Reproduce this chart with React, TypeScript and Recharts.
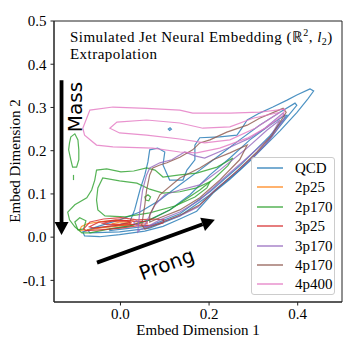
import React from "react";
import { LineChart, Line, XAxis, YAxis, Legend, ReferenceArea, ReferenceLine } from "recharts";

type Pt = [number, number];

const SERIF = '"Liberation Serif", "Times New Roman", serif';
const SANS = '"DejaVu Sans", sans-serif';

const classes = ["QCD", "2p25", "2p170", "3p25", "3p170", "4p170", "4p400"];
const colors = ["#1f77b4", "#ff7f0e", "#2ca02c", "#d62728", "#9467bd", "#8c564b", "#e377c2"];
const xTicks = [0, 0.2, 0.4];
const yTicks = [-0.1, 0, 0.1, 0.2, 0.3, 0.4, 0.5];

// density contours, [embed dim 1, embed dim 2]
const qcdOuter: Pt[] = [
  [0.428, 0.343], [0.398, 0.329], [0.376, 0.317], [0.344, 0.301], [0.314, 0.287], [0.286, 0.271],
  [0.274, 0.252], [0.263, 0.236], [0.224, 0.232], [0.179, 0.230], [0.168, 0.213], [0.168, 0.179],
  [0.150, 0.155], [0.141, 0.132], [0.111, 0.132], [0.096, 0.167], [0.100, 0.197], [0.084, 0.206],
  [0.066, 0.202], [0.062, 0.174], [0.055, 0.144], [0.044, 0.109], [0.032, 0.063], [0.021, 0.035],
  [-0.013, 0.026], [-0.058, 0.021], [-0.085, 0.012], [-0.081, 0.003], [-0.047, 0.001], [-0.002, 0.006],
  [0.055, 0.014], [0.096, 0.025], [0.134, 0.042], [0.172, 0.060], [0.209, 0.102], [0.247, 0.134],
  [0.292, 0.176], [0.322, 0.207], [0.360, 0.246], [0.398, 0.288], [0.423, 0.320], [0.436, 0.338],
];
const qcdMid: Pt[] = [
  [0.394, 0.310], [0.360, 0.289], [0.314, 0.259], [0.269, 0.225], [0.224, 0.190], [0.179, 0.155],
  [0.134, 0.121], [0.089, 0.086], [0.044, 0.058], [-0.002, 0.040], [-0.047, 0.026], [-0.074, 0.017],
  [-0.069, 0.010], [-0.002, 0.012], [0.066, 0.021], [0.134, 0.049], [0.202, 0.098], [0.269, 0.155],
  [0.326, 0.213], [0.371, 0.271], [0.398, 0.305],
];
const qcdInner: Pt[] = [
  [0.371, 0.282], [0.337, 0.259], [0.292, 0.225], [0.247, 0.183], [0.202, 0.144], [0.157, 0.098],
  [0.111, 0.063], [0.066, 0.040], [0.021, 0.026], [-0.024, 0.019], [-0.024, 0.015], [0.066, 0.026],
  [0.134, 0.054], [0.202, 0.105], [0.269, 0.165], [0.337, 0.234], [0.376, 0.282],
];
const qcdSpot: Pt[] = [[0.108, 0.250], [0.112, 0.253], [0.115, 0.250], [0.111, 0.247]];

const p2p25Outer: Pt[] = [
  [-0.092, 0.016], [-0.088, 0.025], [-0.075, 0.031], [-0.045, 0.036], [-0.010, 0.039], [0.025, 0.038],
  [0.045, 0.033], [0.030, 0.029], [0.000, 0.026], [-0.040, 0.022], [-0.075, 0.017],
];
const p2p25Inner: Pt[] = [[-0.020, 0.031], [0.000, 0.035], [0.020, 0.034], [0.022, 0.031], [0.000, 0.029]];

const p2p170Outer: Pt[] = [
  [-0.119, 0.058], [-0.103, 0.075], [-0.076, 0.091], [-0.065, 0.109], [-0.058, 0.132], [-0.054, 0.155],
  [-0.031, 0.158], [0.001, 0.151], [0.030, 0.153], [0.059, 0.160], [0.078, 0.155], [0.096, 0.139],
  [0.134, 0.144], [0.172, 0.148], [0.218, 0.162], [0.254, 0.183], [0.242, 0.165], [0.213, 0.137],
  [0.179, 0.109], [0.145, 0.086], [0.111, 0.063], [0.066, 0.040], [0.021, 0.026], [-0.024, 0.019],
  [-0.069, 0.010], [-0.087, 0.010], [-0.103, 0.024], [-0.115, 0.040],
];
const p2p170Mid: Pt[] = [
  [-0.054, 0.086], [-0.051, 0.114], [-0.040, 0.137], [-0.002, 0.130], [0.037, 0.125], [0.066, 0.111],
  [0.096, 0.102], [0.134, 0.105], [0.172, 0.114], [0.202, 0.128], [0.195, 0.114], [0.168, 0.093],
  [0.123, 0.072], [0.066, 0.056], [0.010, 0.047], [-0.035, 0.049], [-0.051, 0.063],
];
const p2p170Loop: Pt[] = [[0.055, 0.093], [0.062, 0.098], [0.068, 0.093], [0.064, 0.084], [0.057, 0.086]];
const p2p170Low: Pt[] = [[-0.103, 0.035], [-0.092, 0.045], [-0.078, 0.038], [-0.083, 0.019], [-0.096, 0.017]];
const p2p170Thin: Pt[] = [
  [-0.112, 0.232], [-0.103, 0.239], [-0.096, 0.225], [-0.094, 0.202], [-0.094, 0.179], [-0.099, 0.162],
  [-0.108, 0.162], [-0.112, 0.179], [-0.117, 0.202], [-0.115, 0.218],
];
const p2p170Dash: Pt[] = [[-0.106, 0.144], [-0.106, 0.132]];

const p3p25Outer: Pt[] = [
  [-0.083, 0.019], [-0.069, 0.035], [-0.038, 0.042], [0.001, 0.045], [0.037, 0.040], [0.075, 0.042],
  [0.098, 0.040], [0.096, 0.033], [0.075, 0.028], [0.037, 0.026], [0.001, 0.021], [-0.047, 0.017],
  [-0.078, 0.015],
];
const p3p25Mid: Pt[] = [
  [-0.070, 0.024], [-0.050, 0.034], [-0.010, 0.040], [0.030, 0.037], [0.060, 0.036], [0.060, 0.031],
  [0.020, 0.029], [-0.020, 0.026], [-0.060, 0.021],
];
const p3p25Inner: Pt[] = [[-0.040, 0.032], [-0.020, 0.037], [0.015, 0.037], [0.025, 0.033], [0.000, 0.030], [-0.030, 0.029]];

const p3p170Outer: Pt[] = [
  [0.039, 0.012], [0.044, 0.063], [0.050, 0.109], [0.059, 0.144], [0.066, 0.160], [0.089, 0.172],
  [0.116, 0.179], [0.145, 0.197], [0.168, 0.188], [0.190, 0.183], [0.247, 0.208], [0.292, 0.229],
  [0.326, 0.252], [0.367, 0.287], [0.371, 0.276], [0.337, 0.225], [0.304, 0.190], [0.258, 0.148],
  [0.213, 0.109], [0.175, 0.070], [0.134, 0.049], [0.089, 0.033], [0.044, 0.017],
];
const p3p170Mid: Pt[] = [
  [0.055, 0.028], [0.078, 0.075], [0.100, 0.098], [0.134, 0.109], [0.179, 0.121], [0.224, 0.155],
  [0.281, 0.202], [0.331, 0.248], [0.360, 0.271], [0.337, 0.230], [0.281, 0.179], [0.224, 0.128],
  [0.179, 0.086], [0.134, 0.058], [0.089, 0.040], [0.055, 0.021],
];
const p3p170Spot: Pt[] = [[0.030, 0.033], [0.036, 0.038], [0.042, 0.033], [0.036, 0.028]];

const p4p170Outer: Pt[] = [
  [0.048, 0.028], [0.055, 0.075], [0.059, 0.109], [0.066, 0.144], [0.073, 0.160], [0.089, 0.167],
  [0.105, 0.172], [0.134, 0.185], [0.163, 0.202], [0.179, 0.218], [0.202, 0.225], [0.240, 0.243],
  [0.286, 0.259], [0.314, 0.275], [0.367, 0.298], [0.374, 0.289], [0.342, 0.236], [0.308, 0.197],
  [0.265, 0.155], [0.220, 0.114], [0.179, 0.075], [0.141, 0.054], [0.096, 0.035], [0.055, 0.019],
];
const p4p170Mid: Pt[] = [
  [0.066, 0.052], [0.089, 0.098], [0.134, 0.137], [0.179, 0.160], [0.209, 0.179], [0.247, 0.195],
  [0.286, 0.213], [0.269, 0.179], [0.224, 0.132], [0.179, 0.091], [0.134, 0.063], [0.089, 0.045],
  [0.066, 0.035],
];

const p4p400Outer: Pt[] = [
  [-0.085, 0.252], [-0.069, 0.294], [-0.017, 0.301], [0.059, 0.298], [0.134, 0.294], [0.163, 0.287],
  [0.247, 0.287], [0.314, 0.289], [0.371, 0.296], [0.367, 0.282], [0.331, 0.255], [0.286, 0.229],
  [0.224, 0.206], [0.172, 0.195], [0.134, 0.197], [0.073, 0.206], [-0.017, 0.209], [-0.054, 0.213],
  [-0.081, 0.236],
];
const p4p400Inner: Pt[] = [
  [-0.024, 0.252], [-0.008, 0.266], [0.059, 0.271], [0.134, 0.264], [0.186, 0.252], [0.247, 0.255],
  [0.299, 0.275], [0.360, 0.289], [0.304, 0.252], [0.247, 0.225], [0.190, 0.218], [0.134, 0.227],
  [0.059, 0.236], [-0.002, 0.241],
];

// arrow annotations, drawn in data space
const massArrow = [{ x: -0.133, y: 0.363 }, { x: -0.133, y: 0.005 }];
const prongArrow = [{ x: -0.053, y: -0.059 }, { x: 0.213, y: 0.04 }];

const contours: { cls: number; ring: Pt[]; open?: boolean }[] = [
  { cls: 0, ring: qcdOuter }, { cls: 0, ring: qcdMid }, { cls: 0, ring: qcdInner }, { cls: 0, ring: qcdSpot },
  { cls: 1, ring: p2p25Outer }, { cls: 1, ring: p2p25Inner },
  { cls: 2, ring: p2p170Outer }, { cls: 2, ring: p2p170Mid }, { cls: 2, ring: p2p170Loop },
  { cls: 2, ring: p2p170Low }, { cls: 2, ring: p2p170Thin }, { cls: 2, ring: p2p170Dash, open: true },
  { cls: 3, ring: p3p25Outer }, { cls: 3, ring: p3p25Mid }, { cls: 3, ring: p3p25Inner },
  { cls: 4, ring: p3p170Outer }, { cls: 4, ring: p3p170Mid }, { cls: 4, ring: p3p170Spot },
  { cls: 5, ring: p4p170Outer }, { cls: 5, ring: p4p170Mid },
  { cls: 6, ring: p4p400Outer }, { cls: 6, ring: p4p400Inner },
];

function Arrow(props: any) {
  const { x1, y1, x2, y2 } = props;
  const dx = x2 - x1;
  const dy = y2 - y1;
  const len = Math.hypot(dx, dy) || 1;
  const ux = dx / len;
  const uy = dy / len;
  const head = 13;
  const half = 7;
  const bx = x2 - ux * head;
  const by = y2 - uy * head;
  return (
    <g>
      <line x1={x1} y1={y1} x2={bx} y2={by} stroke="#000" strokeWidth={3.8} />
      <polygon
        points={`${x2},${y2} ${bx - uy * half},${by + ux * half} ${bx + uy * half},${by - ux * half}`}
        fill="#000"
      />
    </g>
  );
}

function LegendBox() {
  return (
    <div
      style={{
        width: 84,
        height: 138,
        boxSizing: "border-box",
        border: "1px solid #cccccc",
        borderRadius: 3,
        background: "rgba(255,255,255,0.8)",
        position: "relative",
        fontFamily: SERIF,
        fontSize: 15,
        color: "#000",
      }}
    >
      {classes.map((name, i) => (
        <div
          key={name}
          style={{ position: "absolute", left: 0, top: 1 + i * 19.4, height: 18, display: "flex", alignItems: "center" }}
        >
          <svg width={26} height={4} style={{ marginLeft: 5, display: "block" }}>
            <line x1={0} y1={2} x2={26} y2={2} stroke={colors[i]} strokeOpacity={0.8} strokeWidth={1.5} />
          </svg>
          <span style={{ marginLeft: 12, lineHeight: "18px" }}>{name}</span>
        </div>
      ))}
    </div>
  );
}

const tickStyle = { fontFamily: SERIF, fontSize: 15, fill: "#000" };

export default function App() {
  return (
    <div style={{ position: "absolute", left: 0, top: 0, width: 357, height: 355, background: "#fff" }}>
      <LineChart width={357} height={355} margin={{ top: 21, right: 15, bottom: 0, left: 0 }}>
        <XAxis
          dataKey="x"
          type="number"
          domain={[-0.15, 0.5]}
          ticks={xTicks}
          tickFormatter={(v: number) => v.toFixed(1)}
          allowDataOverflow
          height={53}
          tickSize={3.5}
          tickMargin={3}
          stroke="#222"
          tick={tickStyle}
        />
        <YAxis
          type="number"
          domain={[-0.15, 0.5]}
          ticks={yTicks}
          tickFormatter={(v: number) => v.toFixed(1)}
          allowDataOverflow
          width={54}
          tickSize={3.5}
          tickMargin={4}
          stroke="#222"
          tick={tickStyle}
        />
        <ReferenceArea x1={-0.15} x2={0.5} y1={-0.15} y2={0.5} fill="none" stroke="#222" strokeWidth={1} />
        {contours.map((c, i) => (
          <Line
            key={i}
            data={c.ring.map(([x, y]) => ({ x, y }))}
            dataKey="y"
            type={c.open ? "linear" : "linearClosed"}
            stroke={colors[c.cls]}
            strokeOpacity={0.8}
            strokeWidth={1.2}
            dot={false}
            activeDot={false}
            legendType="none"
            isAnimationActive={false}
          />
        ))}
        <ReferenceLine segment={massArrow} shape={Arrow} />
        <ReferenceLine segment={prongArrow} shape={Arrow} />
        <Legend
          layout="horizontal"
          verticalAlign="middle"
          align="center"
          content={() => <LegendBox />}
          wrapperStyle={{ left: 251, top: 157, width: 84, height: 138 }}
        />
      </LineChart>
      <svg width={357} height={355} style={{ position: "absolute", left: 0, top: 0, pointerEvents: "none" }}>
        <g fontFamily={SERIF} fontSize={15} letterSpacing={0.45} fill="#000">
          <text x={70} y={41.5}>
            <tspan>Simulated Jet Neural Embedding (ℝ</tspan>
            <tspan dy={-6} fontSize={10}>2</tspan>
            <tspan dy={6}>, </tspan>
            <tspan fontStyle="italic">l</tspan>
            <tspan dy={3} fontSize={10}>2</tspan>
            <tspan dy={-3}>)</tspan>
          </text>
          <text x={70} y={58.5}>Extrapolation</text>
        </g>
        <text x={198} y={335} textAnchor="middle" fontFamily={SERIF} fontSize={15}>
          Embed Dimension 1
        </text>
        <text transform="translate(20,161) rotate(-90)" textAnchor="middle" fontFamily={SERIF} fontSize={15}>
          Embed Dimension 2
        </text>
        <text transform="translate(82,107) rotate(-90)" textAnchor="middle" fontFamily={SANS} fontSize={20}>
          Mass
        </text>
        <text transform="translate(167,265) rotate(-20.3)" textAnchor="middle" dy="0.3em" fontFamily={SANS} fontSize={20}>
          Prong
        </text>
      </svg>
    </div>
  );
}
